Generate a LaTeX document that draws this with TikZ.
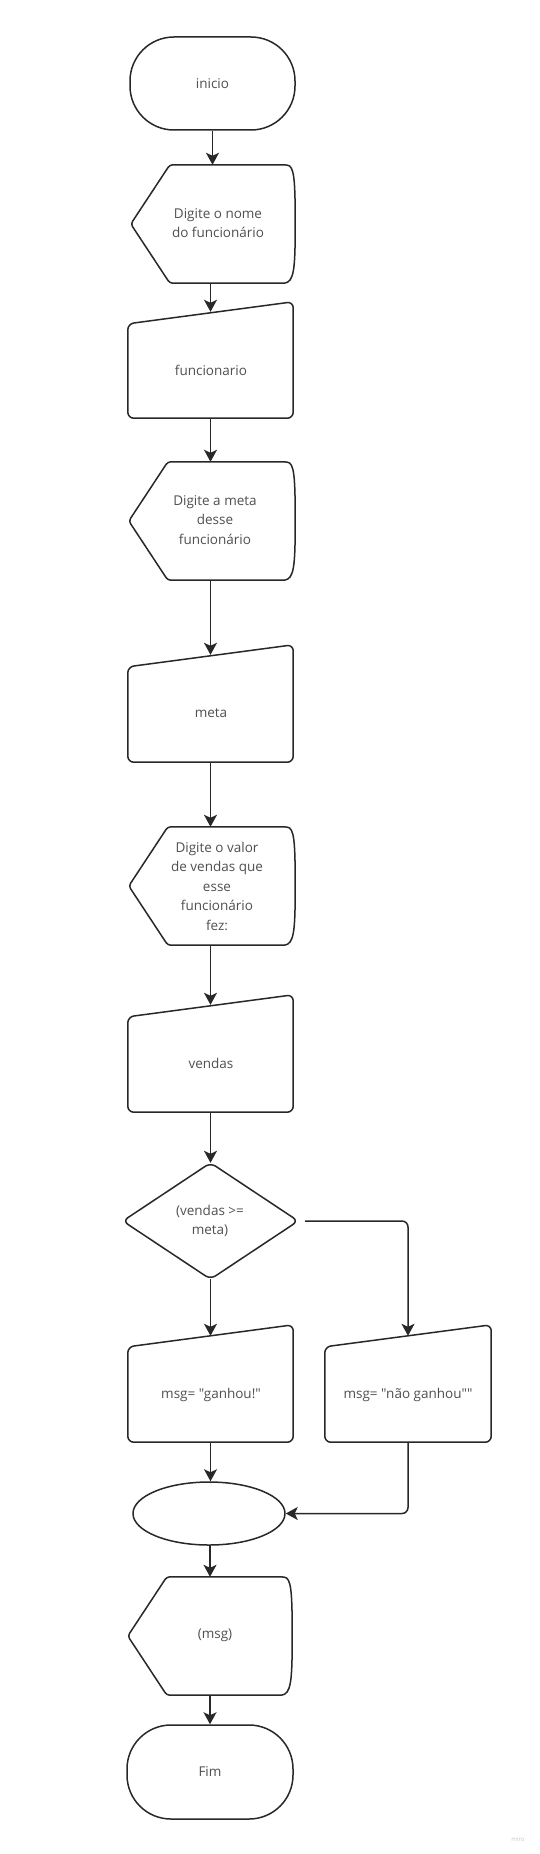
\documentclass[tikz,border=0pt]{standalone}
\usepackage{fontspec}
\setmainfont{Open Sans}[Ligatures=TeXOff]
\usetikzlibrary{arrows.meta,calc,shapes.geometric}
\definecolor{ln}{RGB}{40,40,40}
\definecolor{tx}{RGB}{80,80,80}
\newcommand\dispshape[1]{%
  \draw[shp,rounded corners=3pt] (#1.west) -- ($(#1.north west)+(39,0)$) -- ($(#1.north east)+(-11,0)$)
    [sharp corners] .. controls ($(#1.north east)+(-1,1)$) and ($(#1.east)+(0,-45)$) .. (#1.east)
    .. controls ($(#1.east)+(0,45)$) and ($(#1.south east)+(-1,-1)$) .. ($(#1.south east)+(-11,0)$)
    [rounded corners=3pt] -- ($(#1.south west)+(39,0)$) -- cycle;}
\newcommand\manshape[1]{%
  \draw[shp,rounded corners=6pt] ($(#1.north west)+(0,22)$) -- (#1.north east) -- (#1.south east) -- (#1.south west) -- cycle;}
\begin{document}
\begin{tikzpicture}[x=1pt,y=-1pt,
  shp/.style={draw=ln,line width=1.5pt,line join=round},
  box/.style={draw=none,inner sep=0pt},
  lbl/.style={text=tx,font=\fontsize{13.5}{19.5}\selectfont,align=center,inner sep=0pt},
  arr/.style={draw=ln,line width=1.5pt,-{Stealth[length=12pt,width=13pt,inset=3pt]}}]
\useasboundingbox[fill=white] (0,0) rectangle (539,1854);

% start
\node[shp,lbl,rounded corners=44pt,minimum width=165pt,minimum height=93pt] (start) at (212.5,83.5) {inicio};

% display 1
\node[box,minimum width=164pt,minimum height=118pt] (d1) at (213,224) {};
\dispshape{d1}
\node[lbl] (d1t) at (218,223) {Digite o nome\\do funcionário};

% manual input 1
\node[box,minimum width=165pt,minimum height=116pt] (m1) at (210.5,360) {};
\manshape{m1}
\node[lbl] (m1t) at (211,370) {funcionario};

% display 2
\node[box,minimum width=166pt,minimum height=118pt] (d2) at (212,521) {};
\dispshape{d2}
\node[lbl] (d2t) at (215,520) {Digite a meta\\desse\\funcionário};

% manual input 2
\node[box,minimum width=165pt,minimum height=117pt] (m2) at (210.5,703.5) {};
\manshape{m2}
\node[lbl] (m2t) at (211,713) {meta};

% display 3
\node[box,minimum width=166pt,minimum height=118pt] (d3) at (212,886) {};
\dispshape{d3}
\node[lbl] (d3t) at (217,886) {Digite o valor\\de vendas que\\esse\\funcionário\\fez:};

% manual input 3
\node[box,minimum width=165pt,minimum height=117pt] (m3) at (210.5,1053.5) {};
\manshape{m3}
\node[lbl] (m3t) at (211,1063) {vendas};

% decision
\node[box,minimum width=175pt,minimum height=116pt] (dia) at (210.5,1221) {};
\draw[shp,rounded corners=6pt] (dia.north) -- (dia.east) -- (dia.south) -- (dia.west) -- cycle;
\node[lbl] (diat) at (210,1221) {(vendas >=\\meta)};

% manual input 4
\node[box,minimum width=165pt,minimum height=117pt] (m4) at (210.5,1383.5) {};
\manshape{m4}
\node[lbl] (m4t) at (211,1395) {msg= "ganhou!"};

% manual input 5
\node[box,minimum width=166pt,minimum height=117pt] (m5) at (408,1383.5) {};
\manshape{m5}
\node[lbl] (m5t) at (408,1395) {msg= "não ganhou""};

% ellipse
\node[shp,ellipse,minimum width=152pt,minimum height=63pt,inner sep=0pt] (ell) at (209,1513.5) {};

% display 4
\node[box,minimum width=164pt,minimum height=118pt] (d4) at (210,1636) {};
\dispshape{d4}
\node[lbl] (d4t) at (215,1635) {(msg)};

% end
\node[shp,lbl,rounded corners=44pt,minimum width=166pt,minimum height=94pt] (fim) at (210,1772) {Fim};

% watermark
\node[text=black!22,font=\fontsize{6}{7}\selectfont,inner sep=0pt] (miro) at (518,1839) {miro};

% connectors
\draw[arr] (start.south) -- (d1.north -| start.south);
\draw[arr] (d1.south -| m1.north) -- ($(m1.north)+(0,10)$);
\draw[arr] (m1.south) -- (d2.north -| m1.south);
\draw[arr] (d2.south -| m2.north) -- ($(m2.north)+(0,10)$);
\draw[arr] (m2.south) -- (d3.north -| m2.south);
\draw[arr] (d3.south -| m3.north) -- ($(m3.north)+(0,10)$);
\draw[arr] (m3.south) -- (dia.north);
\draw[arr] (dia.south) -- ($(m4.north)+(0,11)$);
\draw[arr,rounded corners=6pt,shorten <=7pt] (dia.east) -| ($(m5.north)+(0,11)$);
\draw[arr] (m4.south) -- (ell.north -| m4.south);
\draw[arr,rounded corners=6pt] (m5.south) |- (ell.east);
\draw[arr] (ell.south -| d4.north) -- (d4.north);
\draw[arr] (d4.south) -- (fim.north);
\end{tikzpicture}
\end{document}
